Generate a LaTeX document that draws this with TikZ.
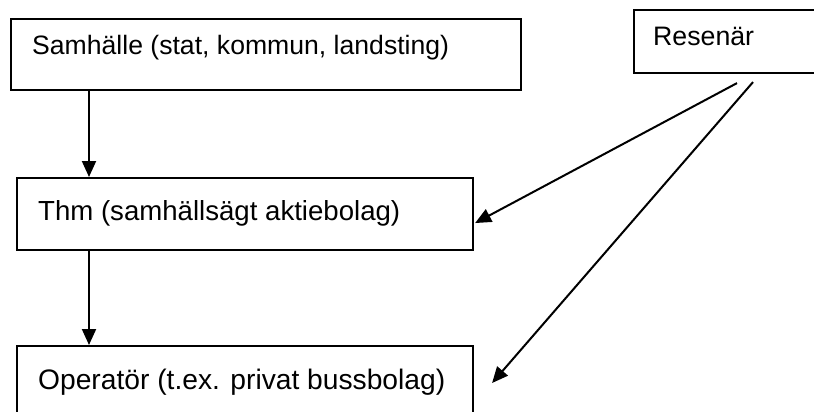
\documentclass[tikz,border=0pt]{standalone}
\usepackage{fontspec}
\setmainfont{Liberation Sans}
\usetikzlibrary{arrows.meta}
\begin{document}
\begin{tikzpicture}[x=1pt,y=-1pt,
  box/.style={draw, line width=2.1pt, inner sep=0pt, anchor=north west},
  lbl/.style={anchor=base west, inner sep=0pt},
  arr/.style={line width=2pt, -{Triangle[length=16pt,width=14pt]}}]
\useasboundingbox (0,0) rectangle (814,412);
\clip (0,0) rectangle (814,412);
\node[box, minimum width=510pt, minimum height=71pt] (sam) at (10,18) {};
\node[box, minimum width=456pt, minimum height=72pt] (thm) at (16,177) {};
\node[box, minimum width=456pt, minimum height=95pt] (op) at (16,345) {};
\node[box, minimum width=207pt, minimum height=63pt] (res) at (633,9) {};
\node[lbl, font=\fontsize{26.6}{30}\selectfont] (samt) at ([shift={(22,37)}]sam.north west) {Samhälle (stat, kommun, landsting)};
\node[lbl, font=\fontsize{27.6}{30}\selectfont] (thmt) at ([shift={(22,43)}]thm.north west) {Thm (samhällsägt aktiebolag)};
\node[lbl, font=\fontsize{28.2}{30}\selectfont] (opt) at ([shift={(22,44)}]op.north west) {Operatör (t.ex. privat bussbolag)};
\node[lbl, font=\fontsize{26.7}{30}\selectfont] (rest) at ([shift={(20,37)}]res.north west) {Resenär};
\draw[arr] ([xshift=79pt]sam.south west) -- ([xshift=73pt]thm.north west);
\draw[arr] ([xshift=73pt]thm.south west) -- ([xshift=73pt]op.north west);
\coordinate (r1) at ([shift={(104,9)}]res.south west);
\coordinate (r2) at ([shift={(120,8)}]res.south west);
\coordinate (t1) at ([shift={(1,9)}]thm.east);
\coordinate (t2) at ([shift={(18,38)}]op.north east);
\draw[arr] (r1) -- (t1);
\draw[arr] (r2) -- (t2);
\end{tikzpicture}
\end{document}
